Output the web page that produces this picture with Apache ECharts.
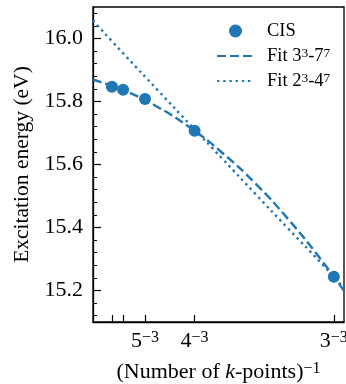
<!DOCTYPE html>
<html>
<head>
<meta charset="utf-8">
<script src="https://cdn.jsdelivr.net/npm/echarts@6/dist/echarts.min.js"></script>
<style>
html,body{margin:0;padding:0;background:#fff}
#main{width:346px;height:384px}
</style>
</head>
<body>
<div id="main"></div>
<script>
// k-point meshes n^3, x = 1/n^3
var kPts = [7, 6, 5, 4, 3];
var cisE = [15.847, 15.837, 15.808, 15.707, 15.244];
// fit curves
var fitX = [0, 0.005, 0.01, 0.015, 0.02, 0.025, 0.03, 0.035, 0.0386];
var fit37 = [15.869, 15.833, 15.782, 15.716, 15.635, 15.539, 15.427, 15.300, 15.199];
var fit24 = [16.057, 15.945, 15.835, 15.725, 15.616, 15.506, 15.397, 15.289, 15.208];
var xLabelPts = [5, 4, 3];
var yMajor = [15.2, 15.4, 15.6, 15.8, 16.0];
var yMinor = [15.12, 15.16, 15.24, 15.28, 15.32, 15.36, 15.44, 15.48, 15.52, 15.56,
              15.64, 15.68, 15.72, 15.76, 15.84, 15.88, 15.92, 15.96, 16.04, 16.08];

var blue = '#1f77b4';
var font = 'Liberation Serif';

function inv3(n){ return 1 / (n * n * n); }

var cisData = kPts.map(function(n, i){ return [inv3(n), cisE[i]]; });
var fitAData = fitX.map(function(x, i){ return [x, fit37[i]]; });
var fitBData = fitX.map(function(x, i){ return [x, fit24[i]]; });

var legendRich = {
  'CIS': '{a|CIS}',
  'Fit 3-7': '{a|Fit 3}{s|3}{a|-7}{s|7}',
  'Fit 2-4': '{a|Fit 2}{s|3}{a|-4}{s|7}'
};
var noSymbol = {color: 'rgba(0,0,0,0)', borderWidth: 0, opacity: 0};

var myChart = echarts.init(document.getElementById('main'));
var option = {
  backgroundColor: '#fff',
  animation: false,
  grid: {
    left: 93, right: 2, top: 7, bottom: 62,
    outerBoundsMode: 'none',
    containLabel: false,
    show: true, borderColor: '#000', borderWidth: 1.3
  },
  legend: {
    orient: 'vertical',
    left: 216, top: 22,
    padding: 0,
    itemWidth: 37, itemHeight: 13,
    itemGap: 5,
    data: [
      {name: 'CIS', icon: 'circle'},
      {name: 'Fit 3-7', itemStyle: noSymbol},
      {name: 'Fit 2-4', itemStyle: noSymbol}
    ],
    formatter: function(name){ return legendRich[name]; },
    textStyle: {
      fontFamily: font, fontSize: 18.5, color: '#000',
      padding: [0, 0, 0, 8],
      rich: {
        a: {fontFamily: font, fontSize: 18.5, color: '#000', lineHeight: 20, verticalAlign: 'bottom'},
        s: {fontFamily: font, fontSize: 13.5, color: '#000', verticalAlign: 'top'}
      }
    }
  },
  xAxis: [{
    type: 'value',
    min: 0, max: 0.0386,
    axisLine: {show: true, lineStyle: {color: '#000', width: 1.3}},
    splitLine: {show: false},
    axisTick: {
      inside: true, length: 7,
      lineStyle: {color: '#000', width: 1.2},
      customValues: kPts.map(inv3)
    },
    axisLabel: {
      margin: 8,
      customValues: xLabelPts.map(inv3),
      formatter: function(v){
        var n = Math.round(Math.cbrt(1 / v));
        return '{b|' + n + '}{s|\u22123}';
      },
      rich: {
        b: {fontFamily: font, fontSize: 22, color: '#000'},
        s: {fontFamily: font, fontSize: 16, color: '#000', verticalAlign: 'top'}
      }
    },
    name: '{t|(Number of }{i|k}{t|-points)}{s|\u22121}',
    nameLocation: 'middle',
    nameGap: 39,
    nameTextStyle: {
      rich: {
        t: {fontFamily: font, fontSize: 22, color: '#000'},
        i: {fontFamily: font, fontSize: 22, color: '#000', fontStyle: 'italic'},
        s: {fontFamily: font, fontSize: 16, color: '#000', verticalAlign: 'top'}
      }
    }
  }],
  yAxis: [{
    type: 'value',
    min: 15.1, max: 16.1,
    axisLine: {show: true, lineStyle: {color: '#000', width: 1.3}},
    splitLine: {show: false},
    axisTick: {
      inside: true, length: 8,
      lineStyle: {color: '#000', width: 1.2},
      customValues: yMajor
    },
    axisLabel: {
      margin: 10,
      customValues: yMajor,
      fontFamily: font, fontSize: 22, color: '#000',
      formatter: function(v){ return v.toFixed(1); }
    },
    name: 'Excitation energy (eV)',
    nameLocation: 'middle',
    nameGap: 58,
    nameTextStyle: {fontFamily: font, fontSize: 21.5, color: '#000'}
  }, {
    type: 'value',
    min: 15.1, max: 16.1,
    position: 'left',
    axisLine: {show: false},
    splitLine: {show: false},
    axisLabel: {show: false},
    axisTick: {
      inside: true, length: 4,
      lineStyle: {color: '#000', width: 1},
      customValues: yMinor
    }
  }],
  series: [{
    name: 'CIS',
    type: 'scatter',
    data: cisData,
    symbol: 'circle',
    symbolSize: 12,
    itemStyle: {color: blue, opacity: 1},
    z: 3
  }, {
    name: 'Fit 3-7',
    type: 'line',
    data: fitAData,
    smooth: true,
    showSymbol: false,
    symbol: 'none',
    itemStyle: {color: blue},
    lineStyle: {color: blue, width: 2.4, type: [9, 4]},
    z: 4
  }, {
    name: 'Fit 2-4',
    type: 'line',
    data: fitBData,
    smooth: true,
    showSymbol: false,
    symbol: 'none',
    itemStyle: {color: blue},
    lineStyle: {color: blue, width: 2.4, type: [2.4, 3.8]},
    z: 4
  }]
};
myChart.setOption(option);
</script>
</body>
</html>
